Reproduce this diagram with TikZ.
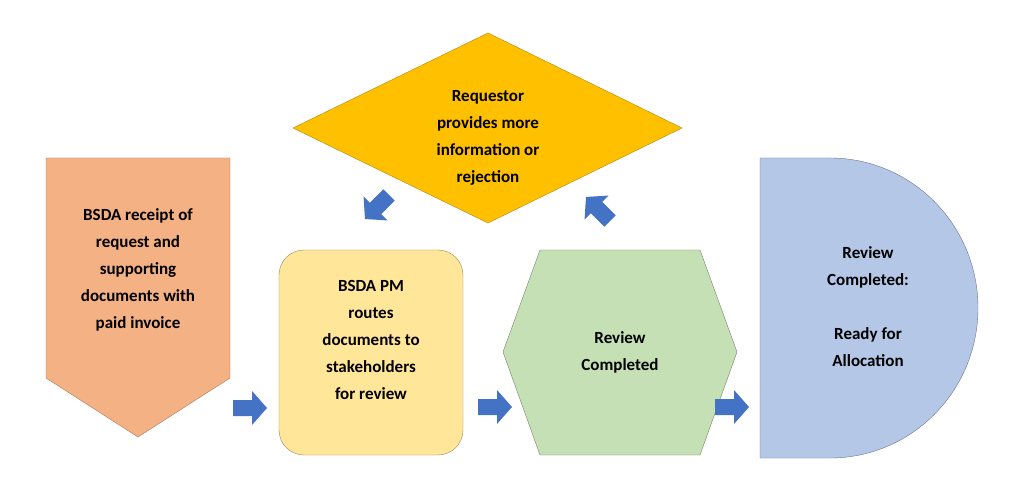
\documentclass[tikz,border=0pt]{standalone}
\usepackage{fontspec}
\setmainfont{Carlito}
\begin{document}
\begin{tikzpicture}[x=1pt,y=1pt,
  txt/.style={align=center,font=\bfseries\fontsize{17}{27}\selectfont,text=black},
  barrow/.style={fill=blue!50!cyan!60!black!90,draw=none},
]
\definecolor{cOr}{HTML}{F4B183}\definecolor{cYe}{HTML}{FFE699}
\definecolor{cGr}{HTML}{C5E0B4}\definecolor{cBl}{HTML}{B4C7E7}
\definecolor{cDi}{HTML}{FFC000}\definecolor{cAr}{HTML}{4472C4}
\useasboundingbox (0,0) rectangle (1024,493);
\fill[white] (0,0) rectangle (1024,493);
\draw[fill=cOr,draw=cOr!70!black] (46,335)--(230,335)--(230,115)--(138,56)--(46,115)--cycle;
\draw[fill=cYe,draw=cYe!60!black,rounded corners=25] (279,38) rectangle (463,243);
\draw[fill=cGr,draw=cGr!60!black] (503,141)--(540,243)--(700,243)--(737,141)--(700,38)--(540,38)--cycle;
\draw[fill=cBl,draw=cBl!60!black] (760,35)--(760,335)--(830,335) arc[start angle=90,end angle=-90,x radius=148,y radius=150]--cycle;
\draw[fill=cDi,draw=cDi!70!black] (293,365)--(488,460)--(682,365)--(488,270)--cycle;
\node[txt] (n1) at (138,223) {BSDA receipt of\\request and\\supporting\\documents with\\paid invoice};
\node[txt] (n2) at (371,153) {BSDA PM\\routes\\documents to\\stakeholders\\for review};
\node[txt] (n3) at (620,141) {Review\\Completed};
\node[txt] (n4) at (868,186) {Review\\Completed:\\[27pt]Ready for\\Allocation};
\node[txt] (n5) at (488,355) {Requestor\\provides more\\information or\\rejection};
\foreach \cx/\cy/\r in {250/85/0,495/86/0,732/86/0,377/286/225,598/284/135}{
  \fill[cAr,shift={(\cx,\cy)},rotate=\r] (-17,-8)--(2,-8)--(2,-17)--(17,0)--(2,17)--(2,8)--(-17,8)--cycle;
}
\end{tikzpicture}
\end{document}
